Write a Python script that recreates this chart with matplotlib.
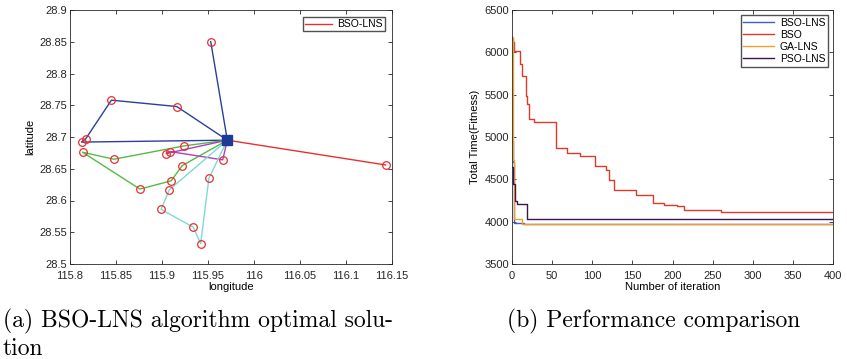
import numpy as np
import matplotlib
matplotlib.use("Agg")
import matplotlib.pyplot as plt
from matplotlib.ticker import FuncFormatter

plt.rcParams["font.family"] = ["Liberation Sans", "DejaVu Sans"]
plt.rcParams["font.size"] = 8

# --- (a) route map data ---
lon = [115.971, 115.953, 115.845, 115.916, 115.817, 115.8125, 115.8136, 115.8476,
       115.876, 115.9045, 115.909, 115.924, 115.922, 115.910, 115.908, 115.899,
       115.934, 115.942, 115.951, 115.966, 116.143]
lat = [28.695, 28.850, 28.758, 28.748, 28.697, 28.692, 28.676, 28.665,
       28.618, 28.674, 28.677, 28.686, 28.655, 28.631, 28.617, 28.586,
       28.558, 28.532, 28.635, 28.664, 28.656]
routes = [
    ([0, 1], "#2b3f9c"),
    ([0, 3, 2, 4, 5, 0], "#2b3f9c"),
    ([0, 11, 7, 6, 8, 13, 12, 0], "#55bb44"),
    ([0, 9, 10, 19, 0], "#b040b8"),
    ([0, 14, 15, 16, 17, 18, 0], "#80d8d4"),
    ([0, 20], "#e83030"),
]

# --- (b) convergence data (step breakpoints) ---
bso_it = [0, 1, 3, 10, 13, 17, 19, 21, 28, 55, 68, 85, 103, 117, 121, 127, 154, 176, 189, 206, 214, 261, 400]
bso_val = [6160, 6125, 6020, 5865, 5720, 5490, 5390, 5210, 5177, 4870, 4810, 4770, 4658, 4610, 4492, 4372,
           4312, 4218, 4200, 4185, 4140, 4118, 4118]
bsolns_it = [0, 1, 3, 15, 400]
bsolns_val = [4950, 4700, 3980, 3974, 3974]
galns_it = [0, 1, 3, 13, 400]
galns_val = [6180, 4725, 4030, 3974, 3974]
psolns_it = [0, 1, 4, 6, 19, 400]
psolns_val = [4650, 4450, 4245, 4207, 4030, 4030]

W, H = 847, 359
fig = plt.figure(figsize=(W / 100, H / 100), dpi=100)

def style(ax):
    ax.tick_params(direction="in", length=3, width=0.6, colors="#262626", top=True, right=True,
                   labeltop=False, labelright=False, pad=2)
    ax.tick_params(axis="x", pad=5)
    for s in ax.spines.values():
        s.set_linewidth(0.6)
        s.set_color("#262626")

ax1 = fig.add_axes([70 / W, 95 / H, 322 / W, 254 / H])
for r, c in routes:
    ax1.plot([lon[i] for i in r], [lat[i] for i in r], color=c, lw=1.0, zorder=2)
ax1.plot([], [], color="#e83030", lw=1.0, label="BSO-LNS")
ax1.plot(lon[1:], lat[1:], "o", mfc="none", mec="#e83030", ms=5.5, mew=0.9, zorder=3)
ax1.plot(lon[0], lat[0], "s", color="#1f3a96", ms=7.5, zorder=4)
ax1.set_xlim(115.8, 116.15)
ax1.set_ylim(28.5, 28.9)
ax1.set_xticks(np.arange(115.8, 116.1501, 0.05))
ax1.set_yticks(np.arange(28.5, 28.9001, 0.05))
ax1.xaxis.set_major_formatter(FuncFormatter(lambda v, p: f"{v:.2f}".rstrip("0").rstrip(".")))
ax1.yaxis.set_major_formatter(FuncFormatter(lambda v, p: f"{v:.2f}".rstrip("0").rstrip(".")))
ax1.set_xlabel("longitude", labelpad=1)
ax1.set_ylabel("latitude", labelpad=3)
style(ax1)
ax1.legend(loc="upper right", fontsize=7.5, frameon=True, fancybox=False, edgecolor="#262626",
           handlelength=2.6, borderpad=0.2, handletextpad=0.5, borderaxespad=0.7)

ax2 = fig.add_axes([512 / W, 95 / H, 321 / W, 254 / H])
ax2.plot(bsolns_it, bsolns_val, drawstyle="steps-post", color="#4060c0", lw=1.0, label="BSO-LNS")
ax2.plot(bso_it, bso_val, drawstyle="steps-post", color="#dd3a2a", lw=1.0, label="BSO")
ax2.plot(galns_it, galns_val, drawstyle="steps-post", color="#f0a030", lw=1.0, label="GA-LNS")
ax2.plot(psolns_it, psolns_val, drawstyle="steps-post", color="#3c1458", lw=1.0, label="PSO-LNS")
ax2.set_xlim(0, 400)
ax2.set_ylim(3500, 6500)
ax2.set_xticks(np.arange(0, 401, 50))
ax2.set_yticks(np.arange(3500, 6501, 500))
ax2.set_xlabel("Number of iteration", labelpad=1)
ax2.set_ylabel("Total Time(Fitness)", labelpad=3)
style(ax2)
ax2.legend(loc="upper right", fontsize=7.5, frameon=True, fancybox=False, edgecolor="#262626",
           handlelength=3.0, borderpad=0.25, handletextpad=0.5, labelspacing=0.2, borderaxespad=0.5)

cap = dict(family=["cmr10", "DejaVu Serif"], fontsize=17)
fig.text(3 / W, 1 - 327 / H, "(a) BSO-LNS algorithm optimal solu-", ha="left", va="baseline", **cap)
fig.text(3 / W, 1 - 355 / H, "tion", ha="left", va="baseline", **cap)
fig.text(507 / W, 1 - 327 / H, "(b) Performance comparison", ha="left", va="baseline", **cap)

fig.savefig("out.png", dpi=100)
